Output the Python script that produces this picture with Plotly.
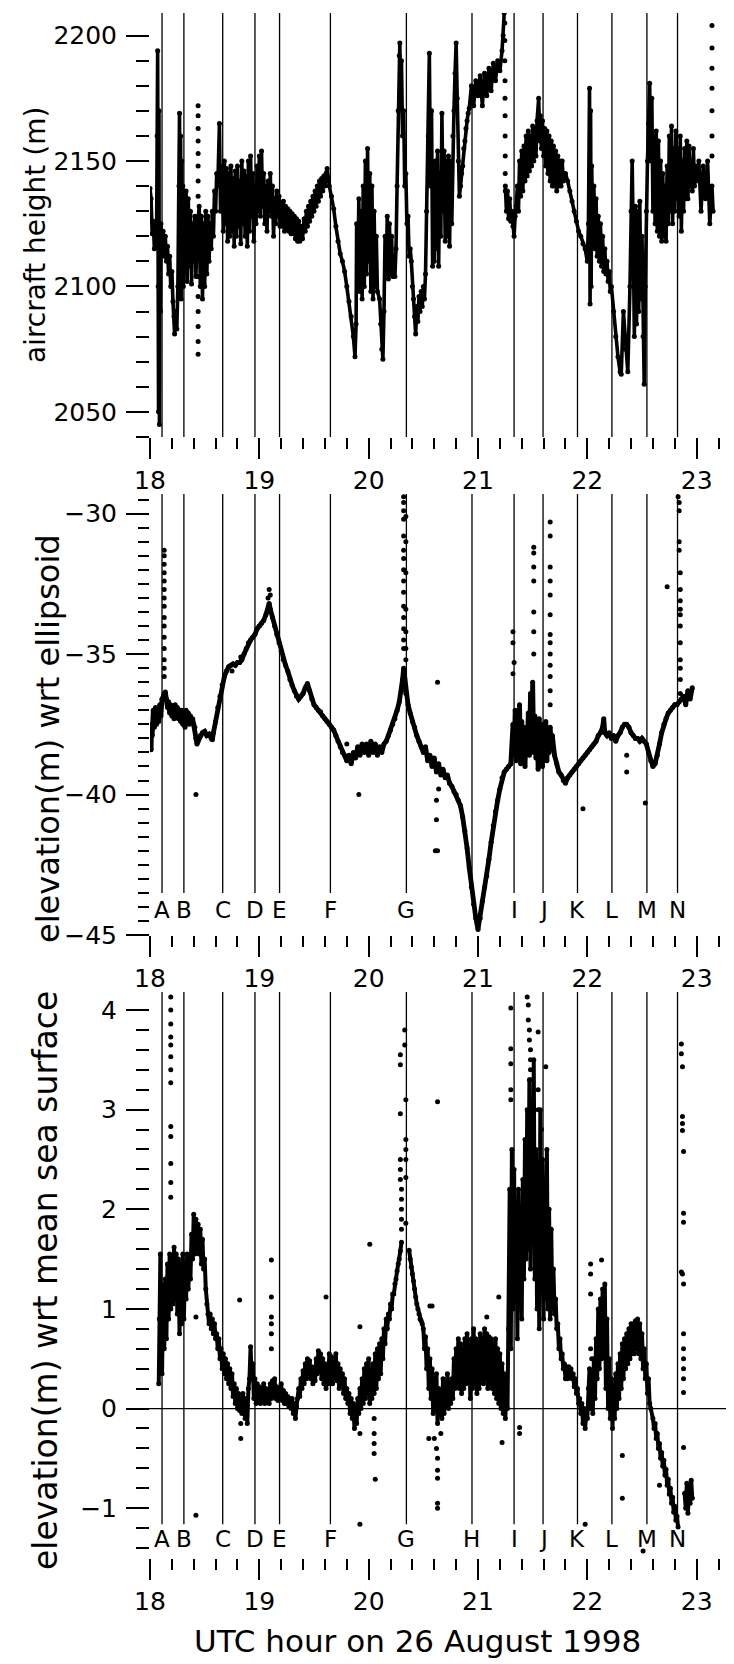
import plotly.graph_objects as go

FONT = "DejaVu Sans"

# ---------------- shared x axis / event markers ----------------
X_TICKS = [18, 19, 20, 21, 22, 23]
EVENT_T = [18.11, 18.31, 18.665, 18.96, 19.185, 19.65, 20.345, 20.945,
           21.33, 21.595, 21.91, 22.225, 22.545, 22.825]
EVENT_LABELS = ["A", "B", "C", "D", "E", "F", "G", "H", "I", "J", "K", "L", "M", "N"]
P2_LABELS = ["A", "B", "C", "D", "E", "F", "G", "", "I", "J", "K", "L", "M", "N"]

# ---------------- panel 1: aircraft height (m) ----------------
P1_TICKS = [2050, 2100, 2150, 2200]
P1_PATH = [
    (18.00, 2139), (18.01, 2135), (18.02, 2121), (18.03, 2126), (18.04, 2115), (18.05, 2124), (18.06, 2118),
    (18.065, 2160), (18.07, 2194), (18.075, 2100), (18.078, 2050), (18.082, 2170), (18.086, 2045),
    (18.09, 2110), (18.095, 2090), (18.10, 2125), (18.11, 2118), (18.12, 2122), (18.13, 2112), (18.14, 2120),
    (18.15, 2110), (18.16, 2116), (18.17, 2105), (18.18, 2112), (18.19, 2100), (18.20, 2106), (18.21, 2094),
    (18.22, 2088), (18.225, 2081), (18.235, 2090), (18.245, 2083), (18.255, 2100),
    (18.265, 2140), (18.27, 2169), (18.275, 2100), (18.28, 2160), (18.285, 2095), (18.29, 2150), (18.295, 2105),
    (18.30, 2140), (18.305, 2100), (18.31, 2130), (18.32, 2110), (18.33, 2138), (18.34, 2102), (18.35, 2135),
    (18.36, 2108), (18.37, 2130), (18.38, 2101), (18.39, 2125), (18.40, 2110), (18.41, 2128), (18.42, 2104),
    (18.43, 2120), (18.45, 2132), (18.46, 2100), (18.47, 2128), (18.48, 2095), (18.49, 2125), (18.50, 2100),
    (18.51, 2130), (18.52, 2105), (18.53, 2128), (18.54, 2110), (18.55, 2125), (18.56, 2115), (18.57, 2130),
    (18.58, 2120), (18.59, 2138), (18.60, 2130), (18.61, 2145), (18.62, 2140), (18.635, 2165), (18.645, 2130),
    (18.66, 2148), (18.67, 2122), (18.68, 2150), (18.69, 2125), (18.70, 2147), (18.71, 2118), (18.72, 2145),
    (18.73, 2120), (18.74, 2148), (18.75, 2122), (18.76, 2143), (18.77, 2116), (18.78, 2146), (18.79, 2120),
    (18.80, 2148), (18.81, 2124), (18.82, 2142), (18.83, 2117), (18.84, 2150), (18.85, 2125), (18.86, 2146),
    (18.87, 2120), (18.88, 2144), (18.89, 2116), (18.90, 2150), (18.91, 2122), (18.92, 2152), (18.93, 2128),
    (18.94, 2145), (18.95, 2118), (18.96, 2140), (18.97, 2125), (18.98, 2148), (18.99, 2130), (19.00, 2152),
    (19.01, 2128), (19.02, 2154), (19.03, 2132), (19.04, 2145), (19.05, 2125), (19.06, 2140), (19.07, 2122),
    (19.08, 2142), (19.09, 2130), (19.10, 2145), (19.11, 2128), (19.12, 2140), (19.13, 2120), (19.14, 2135),
    (19.15, 2125), (19.16, 2138), (19.17, 2128), (19.18, 2136), (19.19, 2124),
    (19.20, 2133), (19.21, 2124), (19.22, 2134), (19.23, 2122), (19.24, 2132), (19.25, 2123), (19.26, 2131),
    (19.27, 2122), (19.28, 2130), (19.29, 2121), (19.30, 2129), (19.31, 2121), (19.32, 2128), (19.33, 2119),
    (19.34, 2127), (19.35, 2118), (19.36, 2126), (19.37, 2118), (19.38, 2124), (19.395, 2119), (19.41, 2127),
    (19.42, 2122), (19.43, 2130), (19.44, 2124), (19.45, 2132), (19.46, 2126), (19.47, 2134), (19.48, 2128),
    (19.49, 2136), (19.50, 2130), (19.51, 2138), (19.52, 2132), (19.53, 2140), (19.54, 2134), (19.55, 2142),
    (19.56, 2136), (19.57, 2143), (19.58, 2138), (19.59, 2144), (19.60, 2140), (19.61, 2145), (19.62, 2147),
    (19.64, 2140), (19.66, 2136), (19.68, 2131), (19.70, 2124), (19.72, 2118), (19.74, 2113), (19.76, 2110),
    (19.78, 2106), (19.80, 2100), (19.82, 2094), (19.84, 2088), (19.86, 2080), (19.875, 2072), (19.885, 2085),
    (19.89, 2125), (19.90, 2100), (19.91, 2135), (19.92, 2098), (19.93, 2130), (19.94, 2095), (19.95, 2140),
    (19.96, 2100), (19.97, 2150), (19.98, 2105), (19.99, 2155), (20.00, 2110), (20.01, 2145), (20.02, 2098),
    (20.03, 2140), (20.04, 2095), (20.05, 2130), (20.06, 2100), (20.07, 2120), (20.08, 2098), (20.10, 2095),
    (20.11, 2085), (20.12, 2075), (20.13, 2071), (20.14, 2090), (20.15, 2120), (20.16, 2105), (20.17, 2128),
    (20.18, 2103), (20.19, 2125), (20.20, 2105), (20.21, 2120), (20.22, 2104), (20.23, 2110), (20.24, 2104),
    (20.25, 2115), (20.26, 2140), (20.27, 2170), (20.28, 2192), (20.285, 2197), (20.29, 2180), (20.30, 2190),
    (20.31, 2160), (20.32, 2170), (20.33, 2140), (20.34, 2145), (20.35, 2125), (20.36, 2128), (20.37, 2112),
    (20.38, 2115), (20.39, 2110), (20.40, 2100), (20.41, 2095), (20.42, 2088), (20.43, 2081), (20.44, 2092),
    (20.45, 2086), (20.46, 2096), (20.47, 2090), (20.48, 2098), (20.49, 2092), (20.50, 2100), (20.51, 2095),
    (20.52, 2105), (20.53, 2130), (20.545, 2160), (20.555, 2193), (20.565, 2140), (20.575, 2170), (20.585, 2108),
    (20.59, 2140), (20.60, 2110), (20.61, 2150), (20.62, 2115), (20.63, 2154), (20.64, 2108), (20.65, 2145),
    (20.66, 2120), (20.67, 2169), (20.68, 2130), (20.69, 2154), (20.70, 2118), (20.71, 2150), (20.72, 2120),
    (20.73, 2152), (20.74, 2116), (20.75, 2150), (20.76, 2125), (20.77, 2160), (20.78, 2170), (20.79, 2185),
    (20.80, 2197), (20.81, 2175), (20.82, 2150), (20.83, 2136), (20.84, 2140), (20.85, 2145), (20.86, 2148),
    (20.87, 2155), (20.88, 2158), (20.89, 2163), (20.90, 2166), (20.91, 2169), (20.92, 2171), (20.94, 2180),
    (20.96, 2172), (20.98, 2182), (21.00, 2176), (21.02, 2184), (21.04, 2172), (21.06, 2185), (21.08, 2176),
    (21.10, 2187), (21.12, 2178), (21.14, 2189), (21.16, 2182), (21.18, 2190), (21.20, 2186), (21.22, 2194),
    (21.23, 2200), (21.24, 2209), (None, None),
    (21.25, 2140), (21.26, 2130), (21.27, 2138), (21.28, 2127), (21.29, 2135), (21.30, 2126), (21.31, 2130),
    (21.32, 2124), (21.33, 2120), (21.34, 2128), (21.35, 2132), (21.36, 2140), (21.37, 2130), (21.38, 2150),
    (21.39, 2136), (21.40, 2154), (21.41, 2138), (21.42, 2156), (21.43, 2142), (21.44, 2160), (21.45, 2144),
    (21.46, 2162), (21.47, 2146), (21.48, 2160), (21.49, 2148), (21.50, 2164), (21.51, 2150), (21.52, 2163),
    (21.53, 2152), (21.54, 2166), (21.555, 2175), (21.565, 2158), (21.57, 2168), (21.58, 2155), (21.59, 2166),
    (21.60, 2152), (21.61, 2163), (21.62, 2148), (21.63, 2162), (21.64, 2145), (21.65, 2160), (21.66, 2142),
    (21.67, 2158), (21.68, 2140), (21.69, 2156), (21.70, 2140), (21.71, 2154), (21.72, 2138), (21.73, 2152),
    (21.74, 2140), (21.75, 2150), (21.76, 2140), (21.77, 2150), (21.78, 2142), (21.80, 2145), (21.82, 2142),
    (21.84, 2138), (21.86, 2134), (21.88, 2130), (21.90, 2126), (21.92, 2122), (21.94, 2120), (21.96, 2117),
    (21.98, 2115), (22.00, 2110), (22.01, 2125),
    (22.02, 2179), (22.025, 2093), (22.03, 2170), (22.035, 2100), (22.04, 2148), (22.05, 2120), (22.06, 2140),
    (22.07, 2115), (22.08, 2135), (22.09, 2112), (22.10, 2128), (22.11, 2110), (22.12, 2125), (22.13, 2108),
    (22.14, 2120), (22.15, 2106), (22.16, 2115), (22.17, 2105), (22.18, 2110), (22.19, 2102), (22.20, 2106),
    (22.21, 2098), (22.22, 2100), (22.24, 2090), (22.26, 2080), (22.28, 2072), (22.30, 2066), (22.31, 2065),
    (22.33, 2090), (22.35, 2075), (22.37, 2066), (22.39, 2100), (22.40, 2130), (22.41, 2150), (22.42, 2120),
    (22.43, 2080), (22.44, 2132), (22.45, 2085), (22.46, 2130), (22.47, 2090), (22.48, 2134), (22.49, 2095),
    (22.50, 2120), (22.51, 2080), (22.52, 2061), (22.53, 2100), (22.54, 2130), (22.55, 2150), (22.56, 2165),
    (22.57, 2181), (22.58, 2150), (22.59, 2175), (22.60, 2130), (22.61, 2160), (22.62, 2125), (22.63, 2162),
    (22.64, 2122), (22.65, 2158), (22.66, 2120), (22.67, 2150), (22.68, 2118), (22.69, 2145), (22.70, 2120),
    (22.71, 2140), (22.72, 2118), (22.73, 2148), (22.74, 2125), (22.75, 2160), (22.76, 2130), (22.77, 2164),
    (22.78, 2125), (22.79, 2155), (22.80, 2130), (22.81, 2162), (22.82, 2135), (22.83, 2155), (22.84, 2128),
    (22.85, 2160), (22.86, 2122), (22.87, 2150), (22.88, 2130), (22.89, 2155), (22.90, 2135), (22.91, 2158),
    (22.92, 2135), (22.93, 2156), (22.94, 2140), (22.95, 2150), (22.96, 2138), (22.97, 2155), (22.98, 2140),
    (22.99, 2148), (23.00, 2142), (23.02, 2150), (23.04, 2130), (23.06, 2148), (23.08, 2135), (23.10, 2150),
    (23.12, 2125), (23.14, 2140), (23.15, 2130),
]
P1_DOTS = [
    (18.44, 2172), (18.44, 2168), (18.44, 2163), (18.44, 2158), (18.44, 2153), (18.44, 2148), (18.44, 2142),
    (18.44, 2136), (18.44, 2128), (18.44, 2120), (18.44, 2112), (18.44, 2104), (18.44, 2096), (18.44, 2090),
    (18.44, 2084), (18.44, 2078), (18.44, 2073),
    (21.245, 2205), (21.245, 2198), (21.245, 2190), (21.247, 2182), (21.247, 2175), (21.248, 2168),
    (21.248, 2160), (21.249, 2152), (21.249, 2145), (21.25, 2138),
    (23.14, 2204), (23.14, 2195), (23.14, 2187), (23.14, 2179), (23.14, 2170), (23.14, 2160), (23.14, 2152),
]

# ---------------- panel 2: elevation wrt ellipsoid (m) ----------------
P2_TICKS = [-45, -40, -35, -30]
P2_PATH = [
    (18.01, -38.4), (18.015, -37.5), (18.02, -37.9), (18.03, -37.0), (18.04, -37.6), (18.05, -36.9),
    (18.06, -37.5), (18.07, -37.0), (18.08, -37.4), (18.09, -36.8), (18.10, -37.2), (18.11, -36.6),
    (18.13, -36.4), (18.14, -36.35), (18.15, -36.6), (18.16, -36.9), (18.17, -36.7), (18.18, -37.1),
    (18.19, -36.8), (18.20, -37.2), (18.21, -36.9), (18.22, -37.3), (18.23, -36.8), (18.24, -37.2),
    (18.25, -36.9), (18.26, -37.3), (18.27, -37.0), (18.28, -37.4), (18.29, -37.0), (18.30, -37.5),
    (18.31, -37.1), (18.32, -37.6), (18.33, -37.0), (18.34, -37.4), (18.35, -37.1), (18.36, -37.5),
    (18.37, -37.2), (18.38, -37.4), (18.39, -37.3), (18.40, -37.5), (18.41, -37.6), (18.42, -38.0),
    (18.43, -38.2), (18.44, -38.1), (18.46, -37.9), (18.48, -37.8), (18.50, -37.75), (18.52, -37.9),
    (18.54, -37.85), (18.56, -38.0), (18.57, -38.05), (18.58, -37.8), (18.60, -37.4), (18.62, -36.9),
    (18.64, -36.5), (18.66, -36.1), (18.68, -35.8), (18.70, -35.6), (18.72, -35.45), (18.74, -35.4),
    (18.76, -35.35), (18.78, -35.4), (18.80, -35.3), (18.82, -35.3), (18.84, -35.2), (18.86, -35.0),
    (18.88, -34.8), (18.90, -34.6), (18.92, -34.5), (18.94, -34.4), (18.96, -34.3), (18.98, -34.1),
    (19.00, -34.0), (19.02, -33.9), (19.04, -33.8), (19.06, -33.6), (19.08, -33.4), (19.09, -33.2),
    (19.10, -33.4), (19.12, -33.7), (19.14, -34.0), (19.16, -34.3), (19.18, -34.6), (19.20, -34.9),
    (19.22, -35.2), (19.24, -35.4), (19.26, -35.6), (19.28, -35.9), (19.30, -36.1), (19.32, -36.3),
    (19.34, -36.5), (19.36, -36.6), (19.38, -36.5), (19.40, -36.4), (19.42, -36.2), (19.44, -36.05),
    (19.46, -36.3), (19.48, -36.6), (19.50, -36.8), (19.52, -36.9), (19.54, -37.0), (19.56, -37.05),
    (19.58, -37.2), (19.60, -37.3), (19.62, -37.4), (19.64, -37.5), (19.66, -37.6), (19.68, -37.7),
    (19.70, -37.9), (19.72, -38.1), (19.74, -38.3), (19.76, -38.5), (19.78, -38.6), (19.80, -38.8),
    (19.82, -38.6), (19.84, -38.9), (19.86, -38.5), (19.88, -38.7), (19.90, -38.3), (19.92, -38.6),
    (19.94, -38.2), (19.96, -38.5), (19.98, -38.2), (20.00, -38.6), (20.02, -38.1), (20.04, -38.5),
    (20.06, -38.2), (20.08, -38.6), (20.10, -38.3), (20.12, -38.5), (20.14, -38.2), (20.16, -38.1),
    (20.18, -37.9), (20.20, -37.7), (20.22, -37.5), (20.24, -37.3), (20.26, -37.0), (20.28, -36.7),
    (20.30, -36.3), (20.31, -35.9), (20.32, -35.5), (20.33, -35.9), (20.34, -36.4), (20.36, -36.8),
    (20.38, -37.1), (20.40, -37.4), (20.42, -37.6), (20.44, -37.9), (20.46, -38.1), (20.48, -38.3),
    (20.50, -38.5), (20.52, -38.3), (20.54, -38.8), (20.56, -38.6), (20.58, -39.0), (20.60, -38.7),
    (20.62, -39.2), (20.64, -38.9), (20.66, -39.3), (20.68, -39.1), (20.70, -39.4), (20.72, -39.3),
    (20.74, -39.6), (20.76, -39.7), (20.78, -39.9), (20.80, -40.0), (20.82, -40.2), (20.84, -40.4),
    (20.86, -40.8), (20.88, -41.3), (20.90, -41.9), (20.92, -42.6), (20.94, -43.3), (20.96, -43.9),
    (20.98, -44.4), (21.00, -44.8), (21.02, -44.4), (21.04, -43.8), (21.06, -43.3), (21.08, -42.9),
    (21.10, -42.3), (21.12, -41.7), (21.14, -41.1), (21.16, -40.6), (21.18, -40.2), (21.20, -39.8),
    (21.22, -39.4), (21.24, -39.2), (21.26, -39.1), (21.28, -39.0), (21.30, -38.9),
    (21.32, -37.5), (21.33, -38.6), (21.34, -37.0), (21.35, -38.8), (21.36, -37.2), (21.37, -38.5),
    (21.38, -36.8), (21.39, -38.9), (21.40, -37.4), (21.41, -38.3), (21.42, -37.6), (21.43, -39.0),
    (21.44, -37.8), (21.45, -38.4), (21.46, -37.1), (21.47, -38.6), (21.48, -36.4), (21.49, -38.2),
    (21.50, -36.0), (21.51, -38.5), (21.52, -37.2), (21.53, -38.7), (21.54, -37.5), (21.55, -39.1),
    (21.56, -37.3), (21.57, -38.6), (21.58, -37.5), (21.59, -39.0), (21.60, -37.7), (21.61, -38.4),
    (21.62, -37.4), (21.63, -38.8), (21.64, -37.8), (21.65, -38.5), (21.66, -37.6), (21.67, -38.2),
    (21.68, -37.9), (21.70, -38.6), (21.72, -38.9), (21.74, -39.2), (21.76, -39.3), (21.78, -39.5),
    (21.80, -39.6), (21.82, -39.4), (21.84, -39.3), (21.86, -39.2), (21.88, -39.1), (21.90, -39.0),
    (21.92, -38.9), (21.94, -38.8), (21.96, -38.7), (21.98, -38.6), (22.00, -38.5), (22.02, -38.4),
    (22.04, -38.3), (22.06, -38.2), (22.08, -38.1), (22.10, -37.9), (22.12, -37.8), (22.14, -37.6),
    (22.15, -37.3), (22.16, -37.8), (22.18, -37.9), (22.20, -37.8), (22.22, -38.0), (22.24, -37.9),
    (22.26, -38.1), (22.28, -37.9), (22.30, -37.8), (22.32, -37.6), (22.34, -37.5), (22.36, -37.5),
    (22.38, -37.6), (22.40, -37.8), (22.42, -37.9), (22.44, -38.0), (22.46, -38.0), (22.48, -38.1),
    (22.50, -38.0), (22.52, -38.1), (22.54, -38.2), (22.56, -38.5), (22.58, -38.8), (22.60, -39.0),
    (22.62, -38.9), (22.64, -38.6), (22.66, -38.2), (22.68, -37.8), (22.70, -37.5), (22.72, -37.3),
    (22.74, -37.1), (22.76, -37.0), (22.78, -36.9), (22.80, -36.8), (22.82, -36.8), (22.84, -36.7),
    (22.86, -36.6), (22.88, -36.5), (22.90, -36.8), (22.92, -36.3), (22.94, -36.6), (22.96, -36.2),
]
P2_DOTS = [
    (18.13, -31.3), (18.13, -31.5), (18.13, -31.8), (18.13, -32.1), (18.13, -32.4), (18.13, -32.7),
    (18.13, -33.0), (18.13, -33.3), (18.13, -33.7), (18.13, -34.0), (18.13, -34.4), (18.13, -34.8),
    (18.13, -35.2), (18.13, -35.5), (18.13, -35.8), (18.42, -40.0), (19.08, -33.0), (19.09, -32.7),
    (19.10, -32.9), (18.83, -35.1), (18.75, -35.6), (19.80, -38.2), (19.91, -40.0),
    (20.32, -29.4), (20.32, -29.6), (20.32, -29.9), (20.32, -30.2), (20.32, -30.8), (20.32, -31.3),
    (20.32, -31.6), (20.32, -32.0), (20.32, -32.4), (20.32, -32.8), (20.32, -33.3), (20.32, -33.7),
    (20.32, -34.1), (20.32, -34.5), (20.32, -34.8), (20.34, -30.1), (20.34, -31.0), (20.34, -32.1),
    (20.34, -33.4), (20.34, -34.2), (20.34, -34.8), (20.34, -35.2),
    (20.63, -36.0), (20.62, -40.9), (20.63, -42.0), (20.61, -42.0), (20.62, -40.2), (20.64, -39.8),
    (21.51, -31.2), (21.51, -31.4), (21.51, -31.9), (21.51, -32.4), (21.51, -33.5), (21.51, -34.2),
    (21.51, -35.0), (21.66, -30.3), (21.66, -30.8), (21.66, -31.9), (21.66, -32.4), (21.66, -32.9),
    (21.66, -33.6), (21.66, -34.3), (21.66, -34.6), (21.66, -35.0), (21.66, -35.4), (21.66, -35.8),
    (21.66, -36.3), (21.66, -36.8), (21.32, -34.2), (21.32, -34.6), (21.33, -35.3), (21.32, -35.7),
    (21.96, -40.5), (22.53, -40.3), (22.36, -38.6), (22.36, -39.2), (22.73, -32.6),
    (22.83, -29.4), (22.84, -29.6), (22.84, -29.9), (22.84, -31.0), (22.84, -31.3), (22.85, -32.1),
    (22.85, -32.7), (22.85, -33.1), (22.85, -33.4), (22.85, -33.6), (22.85, -34.0), (22.85, -34.6),
    (22.85, -35.2), (22.85, -35.5), (22.85, -35.9), (22.85, -36.4),
]

# ---------------- panel 3: elevation wrt mean sea surface (m) ----------------
P3_TICKS = [-1, 0, 1, 2, 3, 4]
P3_PATH = [
    (18.08, 0.25), (18.085, 0.9), (18.09, 0.4), (18.095, 1.55), (18.10, 0.5), (18.105, 1.25), (18.11, 0.35),
    (18.12, 1.1), (18.13, 0.6), (18.14, 1.3), (18.15, 0.7), (18.16, 1.45), (18.17, 0.9), (18.18, 1.55),
    (18.19, 1.0), (18.20, 1.5), (18.21, 1.05), (18.22, 1.62), (18.23, 1.1), (18.24, 1.55), (18.25, 0.95),
    (18.26, 1.5), (18.27, 0.75), (18.28, 1.45), (18.29, 0.85), (18.30, 1.55), (18.31, 0.9), (18.32, 1.45),
    (18.33, 1.1), (18.34, 1.55), (18.35, 1.2), (18.36, 1.4), (18.37, 1.3), (18.38, 1.75), (18.39, 1.5),
    (18.40, 1.95), (18.41, 1.55), (18.42, 1.9), (18.43, 1.6), (18.44, 1.85), (18.45, 1.55), (18.46, 1.8),
    (18.47, 1.45), (18.48, 1.7), (18.49, 1.4), (18.50, 1.5), (18.51, 1.2), (18.52, 1.05), (18.53, 0.95),
    (18.54, 0.85), (18.55, 0.95), (18.56, 0.8), (18.57, 0.9), (18.58, 0.75), (18.59, 0.85), (18.60, 0.7),
    (18.61, 0.75), (18.62, 0.6), (18.63, 0.7), (18.64, 0.5), (18.65, 0.6), (18.66, 0.4), (18.67, 0.55),
    (18.68, 0.35), (18.69, 0.5), (18.70, 0.3), (18.71, 0.45), (18.72, 0.25), (18.73, 0.4), (18.74, 0.2),
    (18.75, 0.35), (18.76, 0.12), (18.77, 0.25), (18.78, 0.05), (18.79, 0.2), (18.80, 0.0), (18.81, 0.15),
    (18.82, -0.02), (18.83, 0.1), (18.84, -0.05), (18.85, 0.15), (18.86, 0.05), (18.87, -0.1), (18.88, 0.1),
    (18.89, -0.15), (18.90, 0.2), (18.91, 0.3), (18.92, 0.62), (18.93, 0.3), (18.94, 0.45), (18.95, 0.1),
    (18.96, 0.3), (18.97, 0.05), (18.98, 0.25), (18.99, 0.08), (19.00, 0.22), (19.01, 0.05), (19.02, 0.2),
    (19.03, 0.1), (19.04, 0.25), (19.05, 0.05), (19.06, 0.2), (19.07, 0.08), (19.08, 0.15), (19.09, 0.05),
    (19.10, 0.25), (19.11, 0.1), (19.12, 0.28), (19.13, 0.12), (19.14, 0.3), (19.15, 0.1), (19.16, 0.22),
    (19.17, 0.08), (19.18, 0.2), (19.19, 0.1), (19.20, 0.25), (19.21, 0.08), (19.22, 0.18), (19.23, 0.05),
    (19.24, 0.15), (19.25, 0.05), (19.26, 0.12), (19.27, 0.02), (19.28, 0.1), (19.29, 0.0), (19.30, 0.1),
    (19.31, -0.05), (19.32, 0.05), (19.33, -0.1), (19.34, 0.02), (19.35, 0.1), (19.36, 0.2), (19.37, 0.12),
    (19.38, 0.3), (19.39, 0.2), (19.40, 0.38), (19.41, 0.25), (19.42, 0.45), (19.43, 0.3), (19.44, 0.5),
    (19.45, 0.35), (19.46, 0.48), (19.47, 0.3), (19.48, 0.42), (19.49, 0.25), (19.50, 0.4), (19.51, 0.28),
    (19.52, 0.5), (19.53, 0.35), (19.54, 0.58), (19.55, 0.4), (19.56, 0.55), (19.57, 0.3), (19.58, 0.5),
    (19.59, 0.25), (19.60, 0.45), (19.61, 0.2), (19.62, 0.42), (19.63, 0.25), (19.64, 0.55), (19.65, 0.3),
    (19.66, 0.52), (19.67, 0.25), (19.68, 0.48), (19.69, 0.3), (19.70, 0.55), (19.71, 0.28), (19.72, 0.45),
    (19.73, 0.2), (19.74, 0.4), (19.75, 0.25), (19.76, 0.35), (19.77, 0.15), (19.78, 0.3), (19.79, 0.1),
    (19.80, 0.2), (19.81, 0.05), (19.82, 0.15), (19.83, -0.05), (19.84, 0.1), (19.85, -0.1), (19.86, 0.05),
    (19.87, -0.2), (19.88, 0.0), (19.89, -0.15), (19.90, 0.1), (19.91, -0.05), (19.92, 0.2), (19.93, 0.0),
    (19.94, 0.3), (19.95, 0.05), (19.96, 0.4), (19.97, 0.1), (19.98, 0.45), (19.99, 0.15), (20.00, 0.5),
    (20.01, 0.05), (20.02, 0.35), (20.03, 0.1), (20.04, 0.45), (20.05, 0.15), (20.06, 0.55), (20.07, 0.2),
    (20.08, 0.6), (20.09, 0.3), (20.10, 0.65), (20.11, 0.35), (20.12, 0.7), (20.13, 0.5), (20.14, 0.8),
    (20.15, 0.65), (20.16, 0.9), (20.17, 0.8), (20.18, 0.95), (20.19, 0.9), (20.20, 1.05), (20.21, 1.0),
    (20.22, 1.15), (20.23, 1.15), (20.24, 1.25), (20.25, 1.3), (20.26, 1.38), (20.27, 1.45), (20.28, 1.5),
    (20.29, 1.58), (20.30, 1.67), (None, None),
    (20.37, 1.59), (20.38, 1.5), (20.39, 1.42), (20.40, 1.35), (20.41, 1.28), (20.42, 1.2), (20.43, 1.12),
    (20.44, 1.05), (20.45, 1.0), (20.46, 0.95), (20.47, 0.9), (20.48, 0.88), (20.49, 0.85), (20.50, 0.8),
    (20.51, 0.6), (20.52, 0.72), (20.53, 0.4), (20.54, 0.6), (20.55, 0.2), (20.56, 0.5), (20.57, 0.1),
    (20.58, 0.4), (20.59, -0.05), (20.60, 0.3), (20.61, 0.0), (20.62, 0.35), (20.63, -0.15), (20.64, 0.2),
    (20.65, -0.05), (20.66, 0.15), (20.67, -0.1), (20.68, 0.3), (20.69, -0.05), (20.70, 0.2), (20.71, 0.05),
    (20.72, 0.35), (20.73, 0.0), (20.74, 0.25), (20.75, 0.05), (20.76, 0.3), (20.77, 0.1), (20.78, 0.5),
    (20.79, 0.2), (20.80, 0.6), (20.81, 0.25), (20.82, 0.7), (20.83, 0.2), (20.84, 0.65), (20.85, 0.15),
    (20.86, 0.6), (20.87, 0.2), (20.88, 0.7), (20.89, 0.25), (20.90, 0.75), (20.91, 0.3), (20.92, 0.6),
    (20.93, 0.1), (20.94, 0.7), (20.95, 0.2), (20.96, 0.8), (20.97, 0.25), (20.98, 0.7), (20.99, 0.15),
    (21.00, 0.65), (21.01, 0.2), (21.02, 0.75), (21.03, 0.3), (21.04, 0.7), (21.05, 0.25), (21.06, 0.8),
    (21.07, 0.3), (21.08, 0.75), (21.09, 0.2), (21.10, 0.72), (21.11, 0.25), (21.12, 0.7), (21.13, 0.2),
    (21.14, 0.65), (21.15, 0.15), (21.16, 0.7), (21.17, 0.1), (21.18, 0.6), (21.19, 0.05), (21.20, 0.55),
    (21.21, 0.0), (21.22, 0.45), (21.23, -0.05), (21.24, 0.35), (21.25, -0.1), (21.26, 0.2), (21.27, 0.0),
    (21.28, 0.8), (21.29, 2.2), (21.30, 0.6), (21.31, 2.6), (21.32, 1.0), (21.33, 2.4), (21.34, 1.1),
    (21.35, 2.0), (21.36, 0.7), (21.37, 2.2), (21.38, 1.2), (21.39, 1.8), (21.40, 0.9), (21.41, 2.3),
    (21.42, 1.3), (21.43, 2.7), (21.44, 1.5), (21.45, 3.0), (21.46, 1.6), (21.47, 3.3), (21.48, 1.4),
    (21.49, 2.9), (21.50, 1.7), (21.51, 3.5), (21.52, 1.3), (21.53, 2.6), (21.54, 1.0), (21.55, 2.3),
    (21.56, 0.8), (21.57, 3.0), (21.58, 1.2), (21.59, 2.5), (21.60, 0.9), (21.61, 2.2), (21.62, 1.1),
    (21.63, 2.6), (21.64, 1.0), (21.65, 2.0), (21.66, 0.9), (21.67, 1.8), (21.68, 1.0), (21.69, 1.4),
    (21.70, 0.95), (21.71, 1.1), (21.72, 0.8), (21.73, 0.85), (21.74, 0.6), (21.75, 0.7), (21.76, 0.5),
    (21.77, 0.55), (21.78, 0.4), (21.79, 0.45), (21.80, 0.3), (21.81, 0.42), (21.82, 0.3), (21.83, 0.42),
    (21.84, 0.32), (21.85, 0.4), (21.86, 0.3), (21.87, 0.35), (21.88, 0.22), (21.89, 0.3), (21.90, 0.15),
    (21.91, 0.2), (21.92, 0.05), (21.93, 0.1), (21.94, -0.05), (21.95, 0.05), (21.96, -0.15), (21.97, 0.0),
    (21.98, -0.2), (21.99, -0.05), (22.00, -0.1), (22.01, 0.2), (22.02, 0.4), (22.03, 0.0), (22.04, 0.3),
    (22.05, -0.05), (22.06, 0.5), (22.07, 0.1), (22.08, 0.7), (22.09, 0.3), (22.10, 1.0), (22.11, 0.4),
    (22.12, 1.1), (22.13, 0.5), (22.14, 1.2), (22.15, 0.6), (22.16, 1.25), (22.17, 0.2), (22.18, 0.9),
    (22.19, 0.0), (22.20, 0.5), (22.21, -0.1), (22.22, 0.3), (22.23, -0.2), (22.24, 0.2), (22.25, -0.1),
    (22.26, 0.35), (22.27, 0.0), (22.28, 0.45), (22.29, 0.1), (22.30, 0.55), (22.31, 0.2), (22.32, 0.65),
    (22.33, 0.3), (22.34, 0.7), (22.35, 0.4), (22.36, 0.75), (22.37, 0.45), (22.38, 0.8), (22.39, 0.5),
    (22.40, 0.85), (22.41, 0.55), (22.42, 0.85), (22.43, 0.55), (22.44, 0.88), (22.45, 0.6), (22.46, 0.9),
    (22.47, 0.55), (22.48, 0.85), (22.49, 0.5), (22.50, 0.75), (22.51, 0.4), (22.52, 0.6), (22.53, 0.3),
    (22.54, 0.45), (22.55, 0.15), (22.56, 0.3), (22.57, 0.05), (22.58, 0.0), (22.60, -0.1), (22.61, -0.2),
    (22.62, -0.15), (22.63, -0.3), (22.64, -0.25), (22.65, -0.4), (22.66, -0.35), (22.67, -0.5),
    (22.68, -0.44), (22.69, -0.58), (22.70, -0.52), (22.71, -0.67), (22.72, -0.61), (22.73, -0.77),
    (22.74, -0.71), (22.75, -0.86), (22.76, -0.8), (22.77, -0.95), (22.78, -0.89), (22.79, -1.04),
    (22.80, -0.98), (22.81, -1.12), (22.82, -1.08), (22.83, -1.19), (None, None),
    (22.89, -0.85), (22.90, -1.0), (22.91, -0.75), (22.92, -1.05), (22.93, -0.8), (22.94, -0.95),
    (22.95, -0.72), (22.96, -0.9),
]
P3_DOTS = [
    (18.19, 4.13), (18.19, 4.0), (18.19, 3.86), (18.19, 3.73), (18.19, 3.65), (18.19, 3.53), (18.19, 3.4),
    (18.19, 3.27), (18.19, 2.83), (18.19, 2.73), (18.19, 2.46), (18.19, 2.27), (18.19, 2.12),
    (18.82, 1.09), (19.11, 1.49), (19.11, 1.12), (19.11, 0.92), (19.11, 0.85), (19.11, 0.75), (19.11, 0.6),
    (19.61, 1.12), (19.92, 0.82), (20.01, 1.65), (18.83, -0.15), (18.83, -0.3), (18.42, -1.07),
    (19.92, -0.25), (19.92, -1.16), (18.42, 0.92), (18.68, 0.4),
    (20.29, 3.55), (20.29, 3.45), (20.29, 2.96), (20.29, 2.5), (20.29, 2.4), (20.29, 2.3), (20.30, 2.2),
    (20.30, 2.1), (20.30, 2.0), (20.30, 1.9), (20.30, 1.8), (20.33, 3.8), (20.33, 3.65), (20.34, 3.1),
    (20.34, 2.7), (20.34, 2.6), (20.34, 2.5), (20.34, 2.32), (20.34, 1.86),
    (20.63, 3.08), (20.56, 1.03), (20.58, 1.03), (21.19, 1.12), (21.08, 0.92),
    (20.05, -0.1), (20.05, -0.25), (20.05, -0.35), (20.05, -0.45), (20.06, -0.71),
    (20.55, -0.3), (20.60, -0.3), (20.63, -0.5), (20.63, -0.7), (20.63, -0.95), (20.63, -1.0),
    (20.63, -0.62), (20.66, -0.25), (20.62, -0.4),
    (21.22, -0.34), (21.38, -0.19), (21.38, -0.25), (21.98, -1.16), (22.32, -0.47), (22.32, -0.9),
    (22.51, -1.43), (22.66, -0.77), (22.88, -0.39),
    (21.30, 4.02), (21.30, 3.61), (21.30, 3.46), (21.30, 3.2), (21.30, 3.1),
    (21.45, 4.13), (21.46, 4.05), (21.46, 3.9), (21.47, 3.8), (21.47, 3.7), (21.48, 3.6), (21.48, 3.5),
    (21.48, 3.4), (21.48, 3.3), (21.55, 3.78), (21.62, 3.43), (21.55, 3.2), (21.55, 3.0), (21.58, 2.8),
    (22.03, 1.45), (22.03, 1.35), (22.03, 1.15), (22.13, 1.49), (22.03, 0.6), (22.04, 0.5),
    (22.86, 3.66), (22.86, 3.56), (22.87, 3.43), (22.87, 2.93), (22.87, 2.86), (22.87, 2.79),
    (22.88, 2.58), (22.88, 1.96), (22.88, 1.87), (22.86, 1.37), (22.87, 1.35), (22.88, 1.25),
    (22.88, 0.75), (22.88, 0.6), (22.88, 0.5), (22.88, 0.4), (22.88, 0.3), (22.88, 0.16),
]


def unzip(pairs):
    return [p[0] for p in pairs], [p[1] for p in pairs]


fig = go.Figure()

panels = [
    ("x", "y", P1_PATH, P1_DOTS, 3.6),
    ("x2", "y2", P2_PATH, P2_DOTS, 4.8),
    ("x3", "y3", P3_PATH, P3_DOTS, 4.0),
]
for xa, ya, path, dots, lw in panels:
    t, v = unzip(path)
    fig.add_trace(go.Scatter(
        x=t, y=v, xaxis=xa, yaxis=ya, mode="lines+markers",
        line=dict(color="black", width=lw),
        marker=dict(color="black", size=5),
        connectgaps=False, showlegend=False, hoverinfo="skip"))
    dt, dv = unzip(dots)
    fig.add_trace(go.Scatter(
        x=dt, y=dv, xaxis=xa, yaxis=ya, mode="markers",
        marker=dict(color="black", size=5),
        showlegend=False, hoverinfo="skip"))

# ---------------- axes ----------------
X_RANGE = [18, 23.25]
tick_font = dict(family=FONT, size=25, color="black")


def xaxis(anchor):
    return dict(
        anchor=anchor, domain=[0, 1], range=X_RANGE, tickvals=X_TICKS,
        ticks="outside", ticklen=21, tickwidth=1.5, tickcolor="black",
        showgrid=False, zeroline=False, showline=False, tickfont=tick_font,
        minor=dict(tick0=18, dtick=0.2, ticks="outside", ticklen=11,
                   tickwidth=1.5, tickcolor="black", showgrid=False),
    )


def yaxis(anchor, domain, rng, tickvals, minor_dtick, minor_len):
    return dict(
        anchor=anchor, domain=domain, range=rng, tickvals=tickvals,
        ticks="outside", ticklen=23, tickwidth=1.5, tickcolor="black",
        showgrid=False, zeroline=False, showline=False, tickfont=tick_font,
        ticklabelstandoff=4,
        minor=dict(tick0=tickvals[0], dtick=minor_dtick, ticks="outside", ticklen=minor_len,
                   tickwidth=1.5, tickcolor="black", showgrid=False),
    )


P1_RANGE = [2040, 2209]
P2_RANGE = [-45, -29.3]
P3_RANGE = [-1.5, 4.18]

# the page body adds an 8 px offset, so the figure is 8 px smaller than the window
layout = dict(
    width=726, height=1656,
    margin=dict(l=142, r=10, t=5, b=106),
    paper_bgcolor="white", plot_bgcolor="white",
    font=dict(family=FONT, color="black"),
    showlegend=False,
    xaxis=xaxis("y"), xaxis2=xaxis("y2"), xaxis3=xaxis("y3"),
    yaxis=yaxis("x", [0.7256, 1.0], P1_RANGE, P1_TICKS, 10, 13),
    yaxis2=yaxis("x2", [0.4032, 0.6887], P2_RANGE, P2_TICKS, 0.5, 11),
    yaxis3=yaxis("x3", [0.0, 0.3663], P3_RANGE, P3_TICKS, 0.2, 13),
)
fig.update_layout(**layout)

# ---------------- event lines & labels ----------------
shapes = []
annotations = []
line_spans = [
    ("x", "y", P1_RANGE[0], P1_RANGE[1]),
    ("x2", "y2", -43.5, P2_RANGE[1]),
    ("x3", "y3", -1.16, P3_RANGE[1]),
]
for xa, ya, y0, y1 in line_spans:
    for t in EVENT_T:
        shapes.append(dict(type="line", xref=xa, yref=ya, x0=t, x1=t, y0=y0, y1=y1,
                           line=dict(color="black", width=1.3)))

for t, lab in zip(EVENT_T, P2_LABELS):
    if lab:
        annotations.append(dict(x=t, y=-44.1, xref="x2", yref="y2", text=lab, showarrow=False,
                                font=dict(family=FONT, size=23, color="black")))
for t, lab in zip(EVENT_T, EVENT_LABELS):
    annotations.append(dict(x=t, y=-1.31, xref="x3", yref="y3", text=lab, showarrow=False,
                            font=dict(family=FONT, size=23, color="black")))

# zero line in bottom panel
shapes.append(dict(type="line", xref="paper", yref="y3", x0=-0.038, x1=1.02, y0=0, y1=0,
                   line=dict(color="black", width=1.3)))

# axis titles
annotations += [
    dict(text="aircraft height (m)", x=-0.2003, y=0.8563, xref="paper", yref="paper",
         textangle=-90, showarrow=False, font=dict(family=FONT, size=28, color="black"),
         xanchor="center", yanchor="middle"),
    dict(text="elevation(m) wrt ellipsoid", x=-0.1777, y=0.5301, xref="paper", yref="paper",
         textangle=-90, showarrow=False, font=dict(family=FONT, size=32, color="black"),
         xanchor="center", yanchor="middle"),
    dict(text="elevation(m) wrt mean sea surface", x=-0.181, y=0.1793, xref="paper", yref="paper",
         textangle=-90, showarrow=False, font=dict(family=FONT, size=33, color="black"),
         xanchor="center", yanchor="middle"),
    dict(text="UTC hour on 26 August 1998", x=(417 - 150) / 574, y=(1558 - 1641) / 1545,
         xref="paper", yref="paper", showarrow=False, xanchor="center", yanchor="middle",
         font=dict(family=FONT, size=31, color="black")),
]

fig.update_layout(shapes=shapes, annotations=annotations)
fig.write_html("out.html")
